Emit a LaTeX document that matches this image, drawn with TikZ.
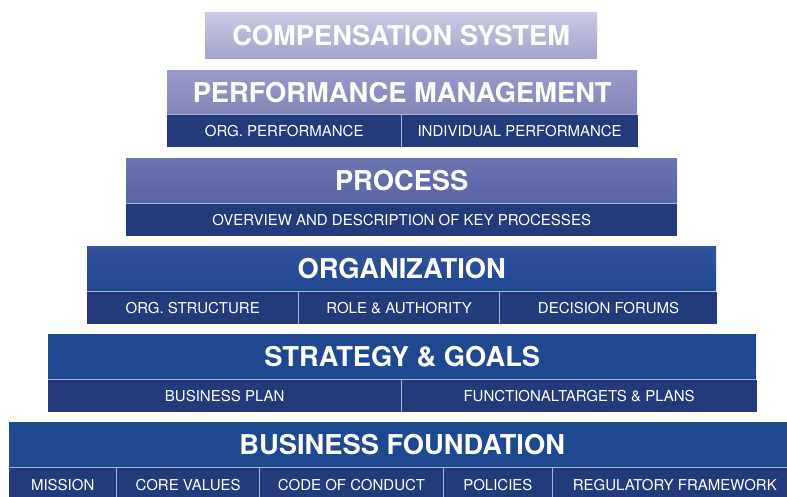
\documentclass[tikz,border=0pt]{standalone}
\usepackage{fontspec}
\setmainfont{TeX Gyre Heros}
\usetikzlibrary{positioning, calc}
\definecolor{navy}{HTML}{243A7A}
\definecolor{seam}{HTML}{A9B0D6}
\definecolor{compTop}{HTML}{CACBE4}
\definecolor{compBot}{HTML}{A2A3CB}
\definecolor{perfTop}{HTML}{9A9ACA}
\definecolor{perfBot}{HTML}{8385B8}
\definecolor{procTop}{HTML}{6C75B2}
\definecolor{procBot}{HTML}{5963A6}
\definecolor{orgTop}{HTML}{33529B}
\definecolor{orgBot}{HTML}{1E4792}
\definecolor{base}{HTML}{1E4990}
\tikzset{
    tier/.style={anchor=north west, inner sep=0pt, text=white, minimum height=45pt,
      font=\bfseries\fontsize{27.3}{29}\selectfont},
    cell/.style={anchor=north west, inner sep=0pt, fill=navy, text=white, minimum height=32pt,
      font=\fontsize{15}{17}\selectfont},
    seamline/.style={draw=seam, line width=1.1pt},
}
\begin{document}
\begin{tikzpicture}[x=1pt, y=-1pt]
    \path[use as bounding box, clip] (0,0) rectangle (787,496);

    \node[tier, minimum width=392pt, minimum height=46pt, top color=compTop, bottom color=compBot] (comp) at (205,12) {COMPENSATION SYSTEM};

    \node[tier, minimum width=470pt, minimum height=44pt, top color=perfTop, bottom color=perfBot] (perf) at (167,70) {PERFORMANCE MANAGEMENT};
    \node[cell, minimum width=234pt] (perfOrg) at (perf.south west) {ORG. PERFORMANCE};
    \node[cell, minimum width=236pt] (perfInd) at (perfOrg.north east) {INDIVIDUAL PERFORMANCE};
    \draw[seamline] (perf.south west) -- (perf.south east);
    \draw[seamline] (perfOrg.north east) -- (perfOrg.south east);

    \node[tier, minimum width=551pt, top color=procTop, bottom color=procBot] (proc) at (126,158) {PROCESS};
    \node[cell, minimum width=551pt] (procKey) at (proc.south west) {OVERVIEW AND DESCRIPTION OF KEY PROCESSES};
    \draw[seamline] (proc.south west) -- (proc.south east);

    \node[tier, minimum width=629pt, top color=orgTop, bottom color=orgBot] (org) at (87,246) {ORGANIZATION};
    \node[cell, minimum width=211pt] (orgStruct) at (org.south west) {ORG. STRUCTURE};
    \node[cell, minimum width=201pt] (orgRole) at (orgStruct.north east) {ROLE \& AUTHORITY};
    \node[cell, minimum width=217pt] (orgForum) at (orgRole.north east) {DECISION FORUMS};
    \draw[seamline] (org.south west) -- (org.south east);
    \draw[seamline] (orgStruct.north east) -- (orgStruct.south east);
    \draw[seamline] (orgRole.north east) -- (orgRole.south east);

    \node[tier, minimum width=708pt, fill=base] (strat) at (48,334) {STRATEGY \& GOALS};
    \node[cell, minimum width=353pt] (stratPlan) at (strat.south west) {BUSINESS PLAN};
    \node[cell, minimum width=355pt] (stratTarget) at (stratPlan.north east) {FUNCTIONAL\kern-1pt TARGETS \& PLANS};
    \draw[seamline] (strat.south west) -- (strat.south east);
    \draw[seamline] (stratPlan.north east) -- (stratPlan.south east);

    \node[tier, minimum width=786pt, fill=base] (found) at (9,422) {BUSINESS FOUNDATION};
    \node[cell, minimum width=107pt, minimum height=34pt] (foundMission) at (found.south west) {MISSION};
    \node[cell, minimum width=143pt, minimum height=34pt] (foundValues) at (foundMission.north east) {CORE VALUES};
    \node[cell, minimum width=183pt, minimum height=34pt] (foundCode) at (foundValues.north east) {CODE OF CONDUCT};
    \node[cell, minimum width=109pt, minimum height=34pt] (foundPolicy) at (foundCode.north east) {POLICIES};
    \node[cell, minimum width=244pt, minimum height=34pt] (foundReg) at (foundPolicy.north east) {REGULATORY FRAMEWORK};
    \draw[seamline] (found.south west) -- (found.south east);
    \draw[seamline] (foundMission.north east) -- (foundMission.south east);
    \draw[seamline] (foundValues.north east) -- (foundValues.south east);
    \draw[seamline] (foundCode.north east) -- (foundCode.south east);
    \draw[seamline] (foundPolicy.north east) -- (foundPolicy.south east);
\end{tikzpicture}
\end{document}
